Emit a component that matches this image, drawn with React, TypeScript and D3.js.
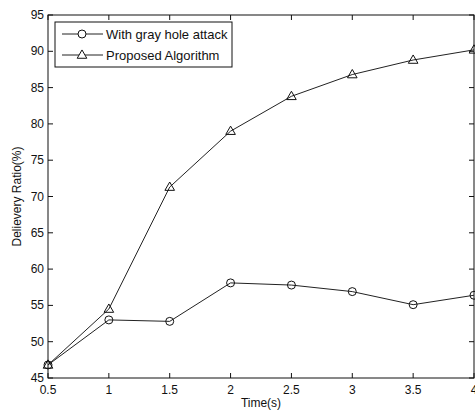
import React, { useEffect, useRef } from 'react';
import * as d3 from 'd3';

const times = [0.5, 1, 1.5, 2, 2.5, 3, 3.5, 4];
const grayHole = [46.8, 53.0, 52.8, 58.1, 57.8, 56.9, 55.1, 56.4];
const proposed = [46.8, 54.5, 71.3, 79.0, 83.8, 86.8, 88.8, 90.2];
const xTicks = [0.5, 1, 1.5, 2, 2.5, 3, 3.5, 4];
const yTicks = [45, 50, 55, 60, 65, 70, 75, 80, 85, 90, 95];
const seriesNames = ['With gray hole attack', 'Proposed Algorithm'];

const App = () => {
  const svgRef = useRef<SVGSVGElement>(null);

  useEffect(() => {
    const width = 475;
    const height = 416;
    const margin = { top: 15, right: 1, bottom: 38, left: 48 };

    const svg = d3.select(svgRef.current);
    svg.selectAll('*').remove();
    svg.attr('width', width).attr('height', height);

    const x = d3.scaleLinear().domain([0.5, 4]).range([margin.left, width - margin.right]);
    const y = d3.scaleLinear().domain([45, 95]).range([height - margin.bottom, margin.top]);

    const font = 'Arial, "Liberation Sans", sans-serif';
    const col = '#111';
    const tickLen = 5;

    // 축 상자
    svg.append('rect')
      .attr('x', x(0.5)).attr('y', y(95))
      .attr('width', x(4) - x(0.5)).attr('height', y(45) - y(95))
      .attr('fill', 'white').attr('stroke', col).attr('stroke-width', 1);

    // 눈금 (안쪽)
    xTicks.forEach(t => {
      svg.append('line').attr('x1', x(t)).attr('x2', x(t))
        .attr('y1', y(45)).attr('y2', y(45) - tickLen).attr('stroke', col);
      svg.append('line').attr('x1', x(t)).attr('x2', x(t))
        .attr('y1', y(95)).attr('y2', y(95) + tickLen).attr('stroke', col);
      svg.append('text')
        .attr('x', x(t)).attr('y', y(45) + 16)
        .attr('text-anchor', 'middle')
        .style('font-family', font).style('font-size', '12px').style('fill', col)
        .text(String(t));
    });
    yTicks.forEach(t => {
      svg.append('line').attr('x1', x(0.5)).attr('x2', x(0.5) + tickLen)
        .attr('y1', y(t)).attr('y2', y(t)).attr('stroke', col);
      svg.append('line').attr('x1', x(4)).attr('x2', x(4) - tickLen)
        .attr('y1', y(t)).attr('y2', y(t)).attr('stroke', col);
      svg.append('text')
        .attr('x', x(0.5) - 4).attr('y', y(t) + 4)
        .attr('text-anchor', 'end')
        .style('font-family', font).style('font-size', '12px').style('fill', col)
        .text(String(t));
    });

    // 축 제목
    svg.append('text')
      .attr('x', (x(0.5) + x(4)) / 2).attr('y', y(45) + 29)
      .attr('text-anchor', 'middle')
      .style('font-family', font).style('font-size', '12px').style('fill', col)
      .text('Time(s)');
    svg.append('text')
      .attr('transform', `translate(21,${(y(45) + y(95)) / 2}) rotate(-90)`)
      .attr('text-anchor', 'middle')
      .style('font-family', font).style('font-size', '12px').style('fill', col)
      .text('Delievery Ratio(%)');

    const line = d3.line<number>()
      .x((_, i) => x(times[i]))
      .y(d => y(d));

    const tri = d3.symbol().type(d3.symbolTriangle).size(40);

    [grayHole, proposed].forEach((vals, s) => {
      svg.append('path').datum(vals)
        .attr('d', line)
        .attr('fill', 'none').attr('stroke', '#222').attr('stroke-width', 1);
      vals.forEach((v, i) => {
        if (s === 0) {
          svg.append('circle').attr('cx', x(times[i])).attr('cy', y(v)).attr('r', 4)
            .attr('fill', 'none').attr('stroke', col).attr('stroke-width', 1);
        } else {
          svg.append('path').attr('d', tri)
            .attr('transform', `translate(${x(times[i])},${y(v) + 0.5})`)
            .attr('fill', 'none').attr('stroke', col).attr('stroke-width', 1);
        }
      });
    });

    // 범례
    const lg = svg.append('g');
    lg.append('rect').attr('x', 55).attr('y', 22).attr('width', 177).attr('height', 45)
      .attr('fill', 'white').attr('stroke', col).attr('stroke-width', 1);
    seriesNames.forEach((name, i) => {
      const ly = 34 + i * 21;
      lg.append('line').attr('x1', 62).attr('x2', 103).attr('y1', ly).attr('y2', ly)
        .attr('stroke', '#222');
      if (i === 0) {
        lg.append('circle').attr('cx', 82).attr('cy', ly).attr('r', 4)
          .attr('fill', 'white').attr('stroke', col);
      } else {
        lg.append('path').attr('d', tri).attr('transform', `translate(82,${ly + 0.5})`)
          .attr('fill', 'white').attr('stroke', col);
      }
      lg.append('text').attr('x', 106).attr('y', ly + 4.5)
        .style('font-family', font).style('font-size', '13px').style('fill', col)
        .text(name);
    });
  }, []);

  return <svg ref={svgRef} style={{ position: 'absolute', left: 0, top: 0, background: 'white' }}></svg>;
};

export default App;
